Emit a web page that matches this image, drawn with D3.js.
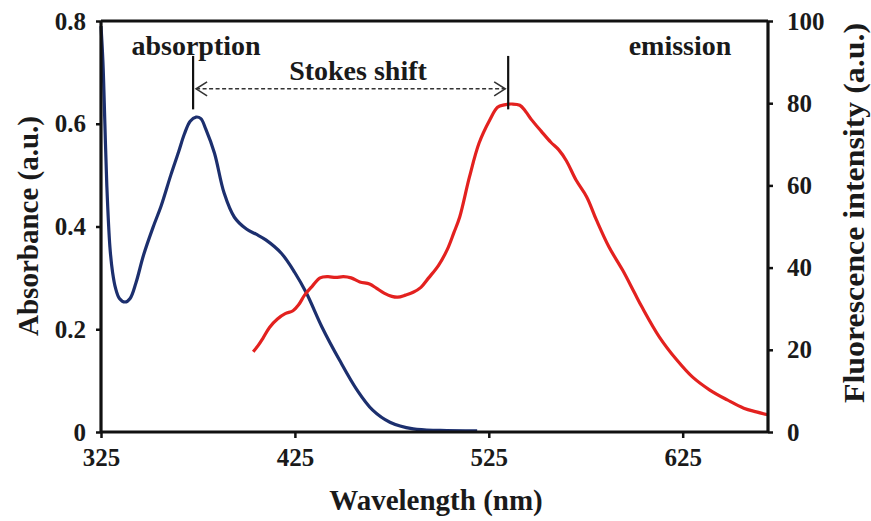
<!DOCTYPE html>
<html><head><meta charset="utf-8">
<script src="https://cdn.jsdelivr.net/npm/d3@7"></script>
<style>
body{margin:0;background:#fff;}
svg text{font-family:"Liberation Serif","Times New Roman",Times,"DejaVu Serif",serif !important;font-weight:bold;fill:#1a1a1a;}
</style></head>
<body><svg id="chart" width="871" height="521"></svg>
<script>
// ---- data ----
const absWavelength = [325,326,327,328,329.6,331,332.5,334.5,337.4,340,343,347,352,356,361,365,368,371,374,376.5,379,383.5,388.5,393.8,400,405,410,418,425,431,439,448,457,465,474,486,500,519];
const absValues = [0.79,0.72,0.60,0.48,0.36,0.31,0.28,0.26,0.253,0.26,0.29,0.345,0.40,0.44,0.50,0.545,0.58,0.605,0.613,0.61,0.59,0.543,0.465,0.418,0.395,0.385,0.374,0.348,0.31,0.27,0.204,0.14,0.082,0.043,0.019,0.006,0.003,0.002];
const emWavelength = [403.5,406,408.5,412,416,420,424,427,430,434,438,442,446,450,454,458.5,463.5,467,471,475,478,482,486,490,494,499,503.5,507,510,515,520,525.5,529.5,533,537,541,544,547,552,557,561,565,570,575.5,580.5,587,594,600,604,613,622,630,639,648,656.5,663,669];
const emValues = [19.5,21,22.8,25.5,27.5,28.8,29.5,31,33.3,35.5,37.5,37.8,37.6,37.8,37.5,36.5,36,35,33.8,33,32.8,33.3,34,35.2,37.5,40.5,44.3,48.5,52.3,62,70.3,75.9,79,79.6,79.8,79.5,78,76,73.2,70.5,68.7,66,61.3,57.2,51.6,45,39.4,34,30.4,23.1,17.5,13.4,10.2,7.8,5.8,4.9,4.2];
const xTicks = [325,425,525,625];
const yLeftTicks = [0,0.2,0.4,0.6,0.8];
const yLeftLabels = ["0","0.2","0.4","0.6","0.8"];
const yRightTicks = [0,20,40,60,80,100];
const absPeak = 372.5, emPeak = 535;

// ---- layout ----
const svg = d3.select("#chart");
const L = 101, R = 768, T = 21, B = 432;
const x = d3.scaleLinear().domain([325, 669]).range([L, R]);
const yL = d3.scaleLinear().domain([0, 0.8]).range([B, T]);
const yR = d3.scaleLinear().domain([0, 100]).range([B, T]);

const tickFont = 25;

// curves
const lineAbs = d3.line().x((d,i)=>x(absWavelength[i])).y(d=>yL(d)).curve(d3.curveCatmullRom.alpha(0.5));
const lineEm = d3.line().x((d,i)=>x(emWavelength[i])).y(d=>yR(d)).curve(d3.curveCatmullRom.alpha(0.5));
svg.append("path").attr("d", lineAbs(absValues)).attr("fill","none").attr("stroke","#1c2f6e").attr("stroke-width",3.2).attr("stroke-linejoin","round");
svg.append("path").attr("d", lineEm(emValues)).attr("fill","none").attr("stroke","#e3211f").attr("stroke-width",3.2).attr("stroke-linejoin","round");

// axes
const ax = svg.append("g").attr("transform",`translate(0,${B})`).call(d3.axisBottom(x).tickValues(xTicks).tickSize(6).tickPadding(10));
const ay = svg.append("g").attr("transform",`translate(${L},0)`).call(d3.axisLeft(yL).tickValues(yLeftTicks).tickFormat((d,i)=>yLeftLabels[i]).tickSize(5).tickPadding(10));
const ar = svg.append("g").attr("transform",`translate(${R},0)`).call(d3.axisRight(yR).tickValues(yRightTicks).tickSize(5).tickPadding(14));
[ax,ay,ar].forEach(g=>{
  g.select(".domain").attr("stroke","#111").attr("stroke-width",3.2);
  g.selectAll(".tick line").attr("stroke","#111").attr("stroke-width",2.5);
  g.selectAll(".tick text").attr("font-size",tickFont).attr("fill","#1a1a1a");
  g.attr("font-size",null).attr("font-family",null);
});
ax.select(".domain").attr("d",`M${L},0H${R}`);
ay.select(".domain").attr("d",`M0,${T}V${B}`);
ar.select(".domain").attr("d",`M0,${T}V${B}`);
// top frame line
svg.append("line").attr("x1",L).attr("x2",R).attr("y1",T).attr("y2",T).attr("stroke","#111").attr("stroke-width",3.2);

// axis titles
svg.append("text").attr("x",436).attr("y",510).attr("text-anchor","middle").attr("font-size",29).text("Wavelength (nm)");
svg.append("text").attr("transform","translate(38,226) rotate(-90)").attr("text-anchor","middle").attr("font-size",29).text("Absorbance (a.u.)");
svg.append("text").attr("transform","translate(864,213) rotate(-90)").attr("text-anchor","middle").attr("font-size",29).attr("textLength",380).attr("lengthAdjust","spacingAndGlyphs").text("Fluorescence intensity (a.u.)");

// annotations
svg.append("text").attr("x",196).attr("y",55).attr("text-anchor","middle").attr("font-size",28).text("absorption");
svg.append("text").attr("x",680).attr("y",55).attr("text-anchor","middle").attr("font-size",28).text("emission");
svg.append("text").attr("x",358).attr("y",80).attr("text-anchor","middle").attr("font-size",28).text("Stokes shift");

const mTop = yR(91.5), mBot = yR(78.5), mMid = yR(83.5);
[absPeak, emPeak].forEach(w=>{
  svg.append("line").attr("x1",x(w)).attr("x2",x(w)).attr("y1",mTop).attr("y2",mBot).attr("stroke","#111").attr("stroke-width",2.2);
});
const ax1 = x(absPeak)+3, ax2 = x(emPeak)-3;
svg.append("line").attr("x1",ax1).attr("x2",ax2).attr("y1",mMid).attr("y2",mMid).attr("stroke","#333").attr("stroke-width",1.6).attr("stroke-dasharray","4,2.5");
svg.append("path").attr("d",`M${ax1+11},${mMid-7}L${ax1},${mMid}L${ax1+11},${mMid+7}`).attr("fill","none").attr("stroke","#333").attr("stroke-width",1.6);
svg.append("path").attr("d",`M${ax2-11},${mMid-7}L${ax2},${mMid}L${ax2-11},${mMid+7}`).attr("fill","none").attr("stroke","#333").attr("stroke-width",1.6);
</script></body></html>
